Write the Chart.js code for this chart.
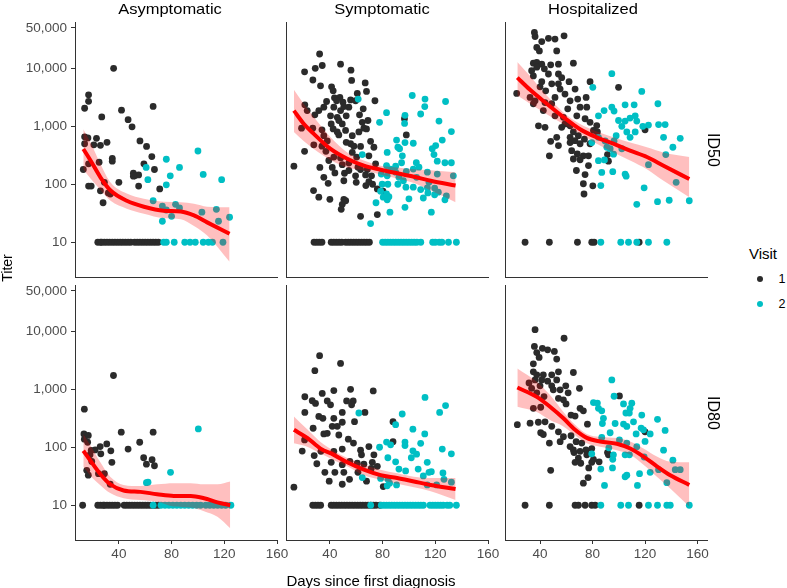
<!DOCTYPE html>
<html>
<head>
<meta charset="utf-8">
<script src="https://cdn.jsdelivr.net/npm/chart.js@4.4.1/dist/chart.umd.min.js"></script>
<style>
  body { margin: 0; background: #fff; }
  #fig { position: relative; width: 787px; height: 588px; overflow: hidden; background: #fff;
         font-family: "Liberation Sans", Arial, sans-serif; }
  #fig canvas { position: absolute; }
  .txt { position: absolute; white-space: nowrap; color: #000; line-height: 1; }
  .dot { position: absolute; width: 6px; height: 6px; border-radius: 50%; }
</style>
</head>
<body>
<div id="fig"></div>
<script>
// Titer vs days since first diagnosis, faceted by group (columns) and assay (rows)

var groups = ['Asymptomatic', 'Symptomatic', 'Hospitalized'];
var assays = ['ID50', 'ID80'];
var visits = ['1', '2'];
var xTicks = [40, 80, 120, 160];
var yTicks = [10, 100, 1000, 10000, 50000];
var floorTiter = 10;   // values at the detection limit sit on this line

// ---- Asymptomatic / ID50 ----
var asym50V1Days = [36, 17, 17, 14, 42, 66, 27, 47, 50, 14, 16.5, 23, 14, 21, 26, 31, 56, 61, 65, 35, 35, 25, 59, 17, 13, 67, 51, 52, 55, 51, 40, 29, 17, 19, 55, 26, 32, 33.5, 71, 28];
var asym50V1Titer = [10000, 3500, 2700, 2050, 1900, 2200, 1450, 1300, 980, 660, 630, 620, 500, 480, 470, 530, 560, 450, 300, 280, 250, 240, 225, 225, 180, 180, 155, 140, 145, 138, 108, 108, 93, 93, 93, 77, 71, 68, 83, 48];
var asym50V1FloorDays = [24, 26, 27, 29, 31, 33, 35, 37, 39, 41, 43, 45, 47, 49, 52, 54, 56, 58, 60, 62, 64, 66, 68, 70];
var asym50V2Days = [100, 76, 60.7, 86, 79, 104, 118, 62, 76, 66, 73, 83, 86, 76, 80, 73, 103, 114, 115.6, 124];
var asym50V2Titer = [375, 270, 195, 195, 140, 148, 120, 120, 98, 52, 42, 45, 39, 36, 28, 23, 33, 37, 23, 27];
var asym50V2FloorDays = [74, 76, 82, 90, 94, 98, 104, 108, 111, 119];
var asym50FitDays = [13, 18.5, 26, 33.7, 46, 59, 74, 87, 97, 107, 124];
var asym50Fit = [407, 257, 132, 78, 52, 41, 35, 34, 29, 22, 14];
var asym50FitLow = [182, 126, 80, 52, 38, 31, 26, 25, 19, 13, 4.6];
var asym50FitHigh = [890, 525, 224, 107, 69, 56, 50, 49, 46, 41, 40];

// ---- Symptomatic / ID50 ----
var symp50V1Days = [32.2, 20.8, 28.9, 34.2, 48.1, 56, 27.1, 32.9, 41.3, 42.5, 66.8, 67.8, 60.8, 47.6, 55.7, 74.2, 37.5, 49.9, 35.4, 31.6, 43, 48.1, 54.4, 52.4, 21, 22.8, 28.6, 40.5, 45.6, 62.5, 46.8, 41, 49.4, 64.6, 65.8, 67.8, 96.6, 27, 18.5, 34, 42.5, 98, 35.4, 46.8, 52.4, 55.7, 58.2, 27.8, 34, 20.8, 37, 63.3, 70.9, 43, 48.1, 54.4, 49.4, 61.3, 63.3, 68.4, 74.7, 43.8, 51.1, 59.5, 67.1, 71.6, 50.6, 60, 69.6, 38.7, 72.4, 67.3, 76, 27.6, 31.6, 40, 50.6, 49.4, 48.6, 63.3, 76, 80.3, 12.7, 43.5, 56.5, 52,
                    45.1, 50.6, 59.5, 65.3, 68.9, 62, 57, 51.9, 45.6, 38, 41.8, 54.4, 57, 60.3, 69.6, 73.4, 39.2, 32.4, 35.4];
var symp50V1Titer = [17700, 8700, 10000, 11200, 11800, 9300, 6300, 5000, 4800, 4100, 5600, 4000, 3700, 3150, 2850, 2760, 2680, 2600, 2140, 1870, 2140, 1870, 2140, 1520, 2350, 1870, 1580, 1520, 1430, 1580, 1260, 1100, 1100, 1170, 930, 900, 1350, 930, 930, 870, 900, 710, 690, 710, 530, 500, 455, 480, 455, 370, 370, 450, 550, 295, 285, 233, 218, 197, 180, 180, 225, 157, 155, 140, 145, 140, 115, 108, 111, 104, 100, 95, 83, 78, 60, 55, 55, 45, 37, 28, 30, 76, 205, 3100, 6200, 52,
                     2760, 2190, 2760, 2000, 1260, 800, 690, 850, 800, 560, 195, 173, 355, 295, 310, 435, 257, 195, 132];
var symp50V1FloorDays = [28, 30, 32, 34, 41, 43, 45, 47, 49, 52, 54, 56, 58, 60, 62, 64, 66, 68, 70];
var symp50V2Days = [61.5, 102.5, 112.2, 112, 127.8, 108.9, 83, 97, 77.7, 96.7, 122.8, 132.2, 125.3, 90.6, 97, 103.3, 120.3, 117.7, 91.6, 92.9, 64.6, 83.5, 95, 119, 121.5, 127.3, 132.2, 94.4, 89.9, 105.6, 107.6, 103.3, 83, 86.1, 98, 89.9, 92.4, 105.8, 114, 121.5, 133.7, 79, 83.5, 95.8, 115.2, 79.7, 84, 91.6, 97.7, 103.3, 108.9, 114, 119.5, 122.3, 114.4, 78.5, 83, 84.8, 80.5, 83.5, 100, 110.9, 119.5, 128.4, 127.3, 75, 97, 85.6, 117, 70.9];
var symp50V2Titer = [2950, 3400, 2950, 2190, 2680, 1630, 1720, 1550, 1170, 1120, 1230, 810, 580, 580, 525, 510, 465, 410, 435, 410, 325, 355, 310, 325, 250, 235, 235, 235, 205, 235, 197, 183, 210, 183, 167, 162, 132, 132, 162, 150, 140, 150, 140, 115, 108, 100, 100, 100, 89, 89, 81, 87, 86, 73, 71, 76, 68, 61, 60, 54, 56, 58, 66, 63, 54, 48, 40, 33, 33, 21];
var symp50V2FloorDays = [80, 82, 84, 86, 88, 90, 92, 94, 96, 98, 100, 102, 104, 106, 109, 118, 120, 123, 125, 130, 136];
var symp50FitDays = [12.7, 20.3, 27.8, 40.5, 53.2, 65.8, 78.5, 91.1, 103.8, 116.5, 135.4];
var symp50Fit = [1862, 1096, 741, 407, 275, 209, 178, 155, 135, 115, 95];
var symp50FitLow = [794, 550, 407, 263, 195, 174, 148, 126, 105, 78, 49];
var symp50FitHigh = [4266, 2400, 1445, 646, 355, 257, 209, 195, 182, 174, 162];

// ---- Hospitalized / ID50 ----
var hosp50V1Days = [35.7, 36.2, 41.3, 46.4, 51.4, 58.3, 37.5, 39.5, 52.7, 34.9, 37.5, 41.3, 48.1, 54, 65.4, 33.6, 37.5, 43.3, 34.9, 46.4, 54, 56.5, 62.1, 41.3, 48.9, 54, 78.1, 99.8, 22.2, 40, 44.3, 55.3, 66.7, 59, 32.4, 36.2, 34.9, 43.8, 68.7, 75.1, 51.4, 48.9, 62.9, 42.5, 61.1, 75.6, 70.5, 51.4, 57.8, 68, 74.3, 38.8, 43.8, 56.5, 62.9, 78.1, 83.2, 80.7, 83.7, 120, 65.4, 69.2, 73.8, 66.7, 62.9, 52.7, 48.1, 54, 62.9, 70.5, 78.1, 64.1, 68.4, 73, 76.9, 47.1, 65.4, 70.5, 76.9, 67.7, 74.3, 73, 80.2, 73.5, 91.4, 92.1, 59];
var hosp50V1Titer = [41700, 35500, 29000, 33000, 32000, 36500, 23000, 20000, 20000, 12300, 12700, 11800, 11500, 11800, 12300, 9100, 10500, 9800, 7400, 8000, 8000, 6900, 5900, 5900, 5400, 5400, 5900, 4700, 3700, 4800, 4100, 4400, 4400, 3600, 3150, 2750, 2450, 2570, 2950, 3150, 3150, 2450, 2750, 1870, 2000, 2140, 2140, 1520, 1430, 1520, 1350, 1020, 960, 960, 1020, 1170, 1030, 850, 800, 870, 800, 690, 600, 565, 645, 645, 550, 465, 525, 500, 500, 380, 333, 310, 310, 310, 273, 265, 210, 173, 147, 102, 94, 68, 325, 250, 1100];
var hosp50V1FloorDays = [28.6, 47.1, 68.5, 79.4, 81.2, 115.5];
var hosp50V2Days = [94.7, 80.2, 117.5, 88.8, 94.7, 96.4, 104.8, 111.7, 129.8, 84.5, 99.8, 104.8, 108.6, 112.5, 113.7, 118.3, 122.6, 130.3, 135.3, 102.3, 106.1, 112.5, 134.1, 146.8, 141.2, 98, 96.4, 89.6, 79.4, 84.5, 108.6, 102.3, 93.4, 90.9, 96, 122.6, 135.8, 84.5, 89.1, 104.8, 105.6, 95.4, 87, 143.7, 86.3, 119.3, 113.7, 129.5, 138.4, 153.7];
var hosp50V2Titer = [8100, 4700, 4000, 1870, 2140, 1830, 2350, 2350, 2450, 1520, 1260, 1230, 1390, 1520, 1230, 1000, 1050, 1070, 1070, 1000, 800, 800, 645, 620, 435, 690, 560, 560, 525, 645, 645, 410, 410, 435, 330, 218, 325, 255, 263, 150, 138, 165, 160, 108, 95, 87, 45, 50, 53, 52];
var hosp50V2FloorDays = [86.3, 101.5, 107.4, 113.7, 122.6, 136.6];
var hosp50FitDays = [22.7, 32.4, 45.1, 57.8, 70.5, 83.2, 95.9, 108.6, 121.4, 134.1, 153.7];
var hosp50Fit = [6918, 4266, 2455, 1445, 891, 646, 501, 380, 295, 209, 123];
var hosp50FitLow = [3388, 2455, 1622, 1096, 741, 501, 355, 257, 182, 115, 60];
var hosp50FitHigh = [12882, 7413, 3388, 1738, 1096, 813, 646, 525, 437, 355, 295];

// ---- Asymptomatic / ID80 ----
var asym80V1Days = [35.9, 13.8, 13.5, 16.8, 13.8, 16.3, 41.8, 66, 30.8, 25.8, 22, 26.3, 33.9, 47, 55.8, 58.8, 60.9, 65.2, 67, 34.7, 18.1, 19.4, 15.6, 16.8, 24.5, 29, 33.4, 19];
var asym80V1Titer = [1730, 455, 170, 160, 138, 122, 182, 182, 114, 103, 90, 77, 87, 93, 122, 66, 51, 61, 48, 55, 74, 57, 40, 33, 35, 35, 23, 88];
var asym80V1FloorDays = [12.5, 24, 26, 28, 29, 31, 33, 35, 37, 39, 44, 46, 48, 50, 52, 54, 56, 58, 60, 62, 64, 66, 68, 70];
var asym80V2Days = [100.3, 79.2, 60.9, 62.1];
var asym80V2Titer = [207, 37, 24.5, 25];
var asym80V2FloorDays = [66, 72, 75, 78, 81, 84, 87, 90, 93, 96, 99, 102, 106, 109, 112, 115, 118, 121, 125];
var asym80FitDays = [13, 18.1, 25.7, 33.4, 43.6, 56.3, 69, 81.7, 94.5, 104.6, 114.8, 124.5];
var asym80Fit = [87, 60, 35, 23, 18, 17, 15.5, 14.5, 14.5, 13.2, 11.2, 10];
var asym80FitLow = [46, 33, 22.4, 16.2, 13.2, 12.3, 11.5, 9.5, 9.1, 7.9, 6.3, 4.0];
var asym80FitHigh = [170, 110, 56, 31, 22.4, 21.4, 22.9, 24, 24, 22.9, 22.9, 25.7];

// ---- Symptomatic / ID80 ----
var symp80V1Days = [32.2, 48.1, 28.6, 34.2, 43, 55.7, 72.9, 21, 26.6, 29.1, 38, 40.5, 52.7, 57.7, 56.5, 21, 49.4, 66.6, 31.6, 34.7, 43, 58.7, 49.4, 41.8, 45.6, 27.3, 87.9, 38, 46.8, 35.4, 20.8, 54, 57.9, 87.9, 19, 28.1, 33.2, 43, 49.4, 63.3, 69.6, 64, 73.4, 30.1, 41, 49.4, 55.2, 60.8, 65.8, 72.2, 36.2, 43.8, 50.6, 61.3, 71.4, 76, 39.5, 49.4, 54.9, 67.8, 80.5, 12.7];
var symp80V1Titer = [3800, 2800, 2100, 850, 950, 1000, 940, 745, 635, 570, 630, 540, 630, 630, 540, 400, 400, 400, 340, 316, 316, 277, 270, 230, 230, 213, 277, 174, 163, 170, 134, 138, 118, 125, 86, 72, 85, 85, 93, 89, 103, 74, 74, 52, 55, 50, 57, 53, 51, 55, 37, 37, 37, 37, 43, 47, 26, 23, 28, 26, 21, 20.5];
var symp80V1FloorDays = [27, 29, 31, 33, 41, 43, 45, 47, 49, 51, 53, 55, 57, 59, 61, 63, 65, 67, 69, 71, 73, 75, 78];
var symp80V2Days = [112.2, 127.8, 123.3, 62, 94.9, 89.9, 103, 112, 77.7, 83, 86.1, 97, 97, 108.9, 103, 105.8, 125.3, 132.2, 101.8, 84, 113.9, 89.9, 92.4, 97.5, 107, 115.2, 117, 125.8, 110.9, 113.9, 121, 126.6, 132.2, 78.5, 84, 83.5, 85.3, 90.6, 64.6];
var symp80V2Titer = [725, 525, 400, 390, 375, 245, 205, 170, 100, 123, 110, 123, 107, 117, 87, 76, 93, 77, 66, 66, 55, 56, 42, 39, 42, 37, 38, 36, 32, 22.4, 22.4, 28, 25, 29, 28, 21.6, 24, 22.4, 30];
var symp80V2FloorDays = [71, 79, 81, 83, 85, 87, 89, 91, 93, 95, 97, 99, 101, 103, 105, 107, 109, 111, 116, 118, 120, 122, 124, 126, 129, 131, 136];
var symp80FitDays = [12.7, 22.8, 32.9, 43, 53.2, 65.8, 78.5, 91.1, 103.8, 116.5, 135.4];
var symp80Fit = [200, 145, 95, 74, 55, 41, 33, 29.5, 25.7, 22.4, 19];
var symp80FitLow = [117, 102, 78, 60, 47, 33, 27.5, 23.4, 20.4, 17.4, 12.3];
var symp80FitHigh = [339, 204, 123, 87, 65, 50, 41, 35.5, 31, 29.5, 29.5];

// ---- Hospitalized / ID80 ----
var hosp80V1Days = [36.2, 58.3, 35.7, 41.8, 45.8, 50.9, 37.5, 39.3, 52.7, 34.9, 54, 65.4, 34.9, 37.5, 42.5, 48.9, 31.6, 36.2, 41.3, 45.8, 52.7, 33.6, 40, 48.9, 50.1, 55.3, 59.6, 61.4, 70, 37.5, 43, 54, 57.8, 59.8, 100.5, 34.9, 40.5, 70.5, 73, 63.6, 66.7, 32.4, 38.7, 43.8, 48.9, 76.1, 22.7, 40.5, 42.5, 54, 57.8, 63.6, 67.5, 71.8, 47.1, 55.3, 62.9, 65.4, 65.9, 70.5, 75, 79.4, 69.2, 75.6, 80.7, 79.4, 85, 91.4, 92.1, 120, 66.7, 71, 77.1, 76.6, 73, 48.1];
var hosp80V1Titer = [10700, 7600, 5500, 5100, 4800, 4500, 4300, 3550, 3330, 2750, 2000, 1950, 2000, 1780, 1780, 1780, 1290, 1450, 1450, 1380, 1450, 1040, 1150, 1150, 980, 980, 1150, 870, 1040, 870, 750, 700, 660, 560, 770, 470, 490, 470, 425, 360, 345, 260, 270, 275, 230, 250, 245, 178, 166, 185, 152, 158, 125, 118, 118, 125, 103, 90, 81, 85, 90, 95, 65, 74, 62, 55, 56, 81, 74, 185, 55, 53, 44, 30, 24, 40];
var hosp80V1FloorDays = [28.6, 47.1, 66.7, 69.2, 74.3, 79.4, 82, 115.5];
var hosp80V2Days = [94.7, 96.4, 80.7, 83.7, 109.9, 103.6, 108.6, 87, 84.5, 105.4, 108, 117.5, 129.5, 88.3, 87.5, 97.2, 111.2, 103.6, 106.1, 117, 118.8, 123.9, 113.2, 135.3, 93.4, 87, 100.5, 106.1, 120, 113.7, 92.4, 104.8, 108.1, 134.1, 119.3, 95.9, 95.4, 141.2, 130.3, 143, 146.8, 86.3, 95.2, 123.9, 115.8, 106.1, 104.8, 136.6, 89.1, 114.2, 79.4];
var hosp80V2Titer = [1450, 760, 590, 580, 575, 560, 470, 425, 470, 390, 390, 360, 303, 316, 257, 257, 275, 251, 229, 214, 200, 170, 170, 195, 178, 148, 134, 118, 126, 102, 98, 74, 74, 89, 68, 74, 62, 60, 41, 41, 41, 42, 44, 37, 35, 33, 31, 24.5, 22, 22, 77];
var hosp80V2FloorDays = [86.3, 101.5, 107.4, 122.6, 129.5, 136.6, 139.2, 153.7];
var hosp80FitDays = [22.7, 37.5, 47.6, 57.8, 66.7, 75.6, 85.8, 98.5, 108.7, 118.8, 129, 139.2, 153.7];
var hosp80Fit = [1072, 741, 501, 316, 200, 145, 126, 115, 95, 69, 47, 33, 22.4];
var hosp80FitLow = [501, 407, 295, 229, 162, 117, 102, 89, 74, 50, 31, 19.5, 9.5];
var hosp80FitHigh = [2291, 1349, 794, 407, 245, 170, 151, 145, 126, 95, 69, 56, 55];

// ---- layout ----
var colLeft = [75, 285.7, 505];
var colRange = [[6.7, 160], [6.7, 160], [13.3, 167.2]];
var rowTop = [21.7, 285];
var panelW = 201.5, panelH = 255;
var padT = 16, padR = 16;
var tickGrey = '#4d4d4d';
var axisCol = '#333333';
var visitColors = ['#2b2b2b', '#00bfc4'];
var fontFam = '"Liberation Sans", Arial, sans-serif';

var panels = [
  [v(asym50V1Days, asym50V1Titer, asym50V1FloorDays), v(asym50V2Days, asym50V2Titer, asym50V2FloorDays), asym50FitDays, asym50Fit, asym50FitLow, asym50FitHigh],
  [v(symp50V1Days, symp50V1Titer, symp50V1FloorDays), v(symp50V2Days, symp50V2Titer, symp50V2FloorDays), symp50FitDays, symp50Fit, symp50FitLow, symp50FitHigh],
  [v(hosp50V1Days, hosp50V1Titer, hosp50V1FloorDays), v(hosp50V2Days, hosp50V2Titer, hosp50V2FloorDays), hosp50FitDays, hosp50Fit, hosp50FitLow, hosp50FitHigh],
  [v(asym80V1Days, asym80V1Titer, asym80V1FloorDays), v(asym80V2Days, asym80V2Titer, asym80V2FloorDays), asym80FitDays, asym80Fit, asym80FitLow, asym80FitHigh],
  [v(symp80V1Days, symp80V1Titer, symp80V1FloorDays), v(symp80V2Days, symp80V2Titer, symp80V2FloorDays), symp80FitDays, symp80Fit, symp80FitLow, symp80FitHigh],
  [v(hosp80V1Days, hosp80V1Titer, hosp80V1FloorDays), v(hosp80V2Days, hosp80V2Titer, hosp80V2FloorDays), hosp80FitDays, hosp80Fit, hosp80FitLow, hosp80FitHigh]
];

// points of one visit: measured values + the ones at the floor
function v(days, titer, floorDays) {
  var pts = days.map(function (d, i) { return { x: d, y: titer[i] }; });
  floorDays.forEach(function (d) { pts.push({ x: d, y: floorTiter }); });
  return pts;
}

function pairs(xs, ys) {
  return xs.map(function (x, i) { return { x: x, y: ys[i] }; });
}

var fig = document.getElementById('fig');

function addText(str, cx, cy, size, rot, sx) {
  var el = document.createElement('div');
  el.className = 'txt';
  el.textContent = str;
  el.style.left = cx + 'px';
  el.style.top = cy + 'px';
  el.style.fontSize = size + 'px';
  el.style.transform = 'translate(-50%,-50%)' + (rot ? ' rotate(' + rot + 'deg)' : '') + (sx ? ' scaleX(' + sx + ')' : '');
  fig.appendChild(el);
}

function makePanel(row, col) {
  var p = panels[row * 3 + col];
  var yw = col === 0 ? 60 : 8;
  var xh = row === 1 ? 26 : 16;
  var canvas = document.createElement('canvas');
  var w = Math.round(yw + panelW + padR), h = Math.round(padT + panelH + xh);
  canvas.width = w; canvas.height = h;
  canvas.style.width = w + 'px'; canvas.style.height = h + 'px';
  canvas.style.left = (colLeft[col] - yw) + 'px';
  canvas.style.top = (rowTop[row] - padT) + 'px';
  fig.appendChild(canvas);

  var lineBase = { showLine: true, pointRadius: 0, pointHoverRadius: 0, cubicInterpolationMode: 'monotone' };
  var dotBase = { showLine: false, pointRadius: 3.4, pointHoverRadius: 3.4, pointBorderWidth: 0 };

  new Chart(canvas, {
    type: 'line',
    data: {
      datasets: [
        Object.assign({ data: pairs(p[2], p[3]), borderColor: '#ff0000', borderWidth: 4, fill: false, order: 0 }, lineBase),
        Object.assign({ data: pairs(p[2], p[5]), borderWidth: 0, borderColor: 'rgba(0,0,0,0)', fill: '+1', backgroundColor: 'rgba(255,0,0,0.25)', order: 1 }, lineBase),
        Object.assign({ data: pairs(p[2], p[4]), borderWidth: 0, borderColor: 'rgba(0,0,0,0)', fill: false, order: 2 }, lineBase),
        Object.assign({ label: visits[1], data: p[1], pointBackgroundColor: visitColors[1], borderColor: visitColors[1], order: 3 }, dotBase),
        Object.assign({ label: visits[0], data: p[0], pointBackgroundColor: visitColors[0], borderColor: visitColors[0], order: 4 }, dotBase)
      ]
    },
    options: {
      responsive: false,
      animation: false,
      events: [],
      layout: { padding: { top: padT, right: padR, left: 0, bottom: 0 }, autoPadding: false },
      plugins: { legend: { display: false }, tooltip: { enabled: false } },
      scales: {
        x: {
          type: 'linear',
          min: colRange[col][0],
          max: colRange[col][1],
          afterBuildTicks: function (s) { s.ticks = xTicks.map(function (t) { return { value: t }; }); },
          afterFit: function (s) { s.height = xh; },
          ticks: { display: row === 1, color: tickGrey, font: { family: fontFam, size: 13.5 }, padding: 2, maxRotation: 0, autoSkip: false },
          grid: { display: row === 1, drawOnChartArea: false, drawTicks: true, tickLength: 4, color: axisCol },
          border: { display: true, color: axisCol, width: 1 }
        },
        y: {
          type: 'logarithmic',
          min: Math.pow(10, 0.4),
          max: Math.pow(10, 4.8),
          afterBuildTicks: function (s) { s.ticks = yTicks.map(function (t) { return { value: t }; }); },
          afterFit: function (s) { s.width = yw; },
          ticks: {
            display: col === 0, color: tickGrey, font: { family: fontFam, size: 13.5 }, padding: 4, autoSkip: false,
            callback: function (val) { return Number(val).toLocaleString('en-US'); }
          },
          grid: { display: col === 0, drawOnChartArea: false, drawTicks: true, tickLength: 4, color: axisCol },
          border: { display: true, color: axisCol, width: 1 }
        }
      }
    }
  });
}

for (var r = 0; r < 2; r++) {
  for (var c = 0; c < 3; c++) makePanel(r, c);
}

// strips, axis titles, legend
var stripX = [170, 382, 593];
groups.forEach(function (g, i) { addText(g, stripX[i], 8, 15, 0, 1.1); });
addText(assays[0], 712.5, 149.5, 16, 90);
addText(assays[1], 712.5, 412.5, 16, 90);
addText('Titer', 7, 268, 14, -90);
addText('Days since first diagnosis', 371, 580, 15);
addText('Visit', 763, 253, 15);
visits.forEach(function (lab, i) {
  var d = document.createElement('div');
  d.className = 'dot';
  d.style.background = visitColors[i];
  d.style.left = (760 - 3) + 'px';
  d.style.top = (279 + i * 25 - 3) + 'px';
  fig.appendChild(d);
  addText(lab, 782, 279 + i * 25, 12.5);
});
</script>
</body>
</html>
